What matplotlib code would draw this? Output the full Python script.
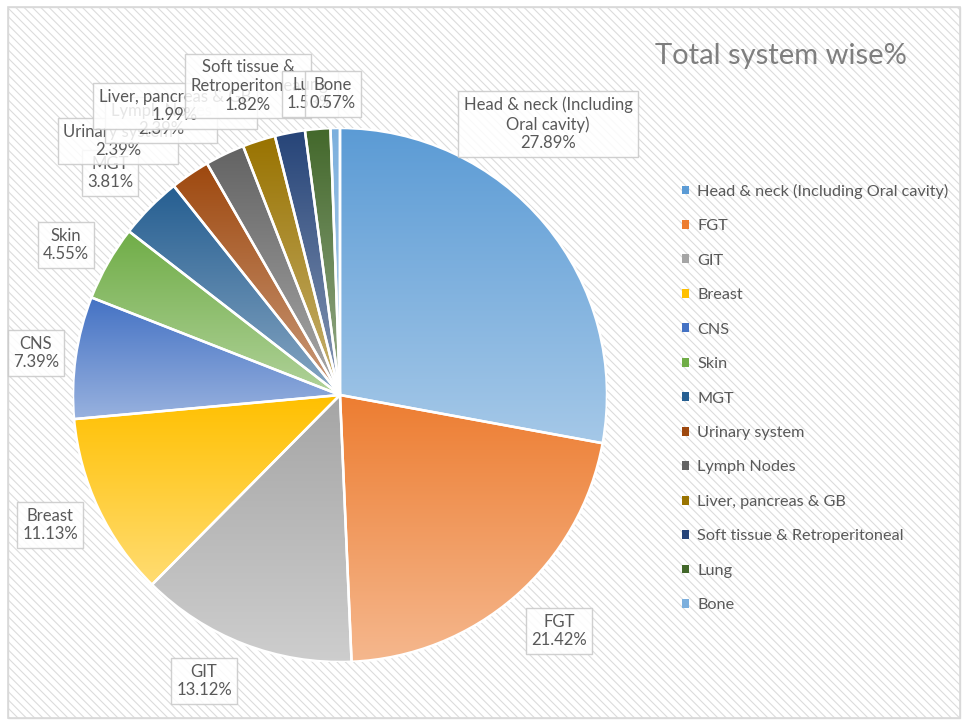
import numpy as np
import matplotlib
matplotlib.use("Agg")
import matplotlib.pyplot as plt
from matplotlib.patches import Rectangle, Wedge
from matplotlib.colors import to_rgb

# dữ liệu: tỉ lệ % theo hệ cơ quan
systems = ["Head & neck (Including Oral cavity)", "FGT", "GIT", "Breast", "CNS", "Skin",
           "MGT", "Urinary system", "Lymph Nodes", "Liver, pancreas & GB",
           "Soft tissue & Retroperitoneal", "Lung", "Bone"]
label_names = ["Head & neck (Including\nOral cavity)", "FGT", "GIT", "Breast", "CNS", "Skin",
               "MGT", "Urinary system", "Lymph Nodes", "Liver, pancreas & GB",
               "Soft tissue &\nRetroperitoneal", "Lung", "Bone"]
percent = [27.89, 21.42, 13.12, 11.13, 7.39, 4.55, 3.81, 2.39, 2.39, 1.99, 1.82, 1.53, 0.57]

colors = ["#5b9bd5", "#ed7d31", "#a5a5a5", "#ffc000", "#4472c4", "#70ad47",
          "#255e91", "#9e480e", "#636363", "#997300", "#264478", "#43682b", "#7cafdd"]

# vị trí tâm các nhãn (pixel, gốc trên-trái)
label_pos = [(548, 124), (559, 631), (204, 681), (50, 525), (36, 353), (66, 245),
             (110, 173), (118, 141), (161, 120), (175, 106), (248, 86), (310, 94), (333, 94)]

W, H = 963, 723
plt.rcParams["font.family"] = ["Lato", "DejaVu Sans"]
plt.rcParams["hatch.linewidth"] = 0.8
plt.rcParams["hatch.color"] = "#dcdcdc"

fig = plt.figure(figsize=(W / 100, H / 100), dpi=100)
fig.patch.set_facecolor("white")

# nền kẻ sọc chéo
x0, y0, x1, y1 = 8, 7, 960, 718
fig.add_artist(Rectangle((x0 / W, 1 - y1 / H), (x1 - x0) / W, (y1 - y0) / H,
                         transform=fig.transFigure, facecolor="white",
                         edgecolor="#dcdcdc", hatch="\\\\\\\\", linewidth=1.0, zorder=-2))
# viền khung
fig.add_artist(Rectangle((x0 / W, 1 - y1 / H), (x1 - x0) / W, (y1 - y0) / H,
                         transform=fig.transFigure, fill=False, edgecolor="#d9d9d9",
                         linewidth=1.2, zorder=-1))

# vùng vẽ biểu đồ tròn
cx, cy, r = 340, 395, 267
ax = fig.add_axes([(cx - r) / W, (H - cy - r) / H, 2 * r / W, 2 * r / H])
ax.patch.set_visible(False)

wedges, _ = ax.pie(percent, colors=colors, startangle=90, counterclock=False,
                   radius=1, wedgeprops=dict(linewidth=0))

# tô chuyển màu theo chiều dọc cho từng lát
for w, c in zip(wedges, colors):
    t = np.radians(np.linspace(w.theta1, w.theta2, 200))
    xs = np.concatenate([[0], np.cos(t)])
    ys = np.concatenate([[0], np.sin(t)])
    base = np.array(to_rgb(c))
    light = base + (1 - base) * 0.45
    k = np.linspace(0, 1, 256)[:, None]
    grad = base[None, :] * (1 - k) + light[None, :] * k
    img = ax.imshow(grad[:, None, :], extent=[xs.min(), xs.max(), ys.min(), ys.max()],
                    origin="upper", aspect="auto", zorder=2)
    img.set_clip_path(w)
    ax.add_patch(Wedge((0, 0), 1, w.theta1, w.theta2, facecolor="none",
                       edgecolor="white", linewidth=1.8, zorder=3))

ax.set_xlim(-1, 1)
ax.set_ylim(-1, 1)
ax.set_aspect("equal")
ax.axis("off")

# nhãn dữ liệu trong hộp
for name, p, (px, py) in zip(label_names, percent, label_pos):
    fig.text(px / W, 1 - py / H, f"{name}\n{p:.2f}%", ha="center", va="center",
             multialignment="center", fontsize=12, color="#595959", linespacing=1.2,
             bbox=dict(boxstyle="square,pad=0.32", facecolor="white", alpha=0.85,
                       edgecolor="#c8c8c8", linewidth=1))

fig.text(781 / W, 1 - 56 / H, "Total system wise%", ha="center", va="center",
         fontsize=21, color="#7f7f7f")

fig.legend(wedges, systems, loc="upper left", bbox_to_anchor=(667 / W, 1 - 169 / H),
           frameon=False, fontsize=11.7, labelcolor="#595959", handlelength=0.45,
           handleheight=0.45, handletextpad=0.5, labelspacing=1.26)

fig.savefig("out.png", dpi=100, facecolor="white")
